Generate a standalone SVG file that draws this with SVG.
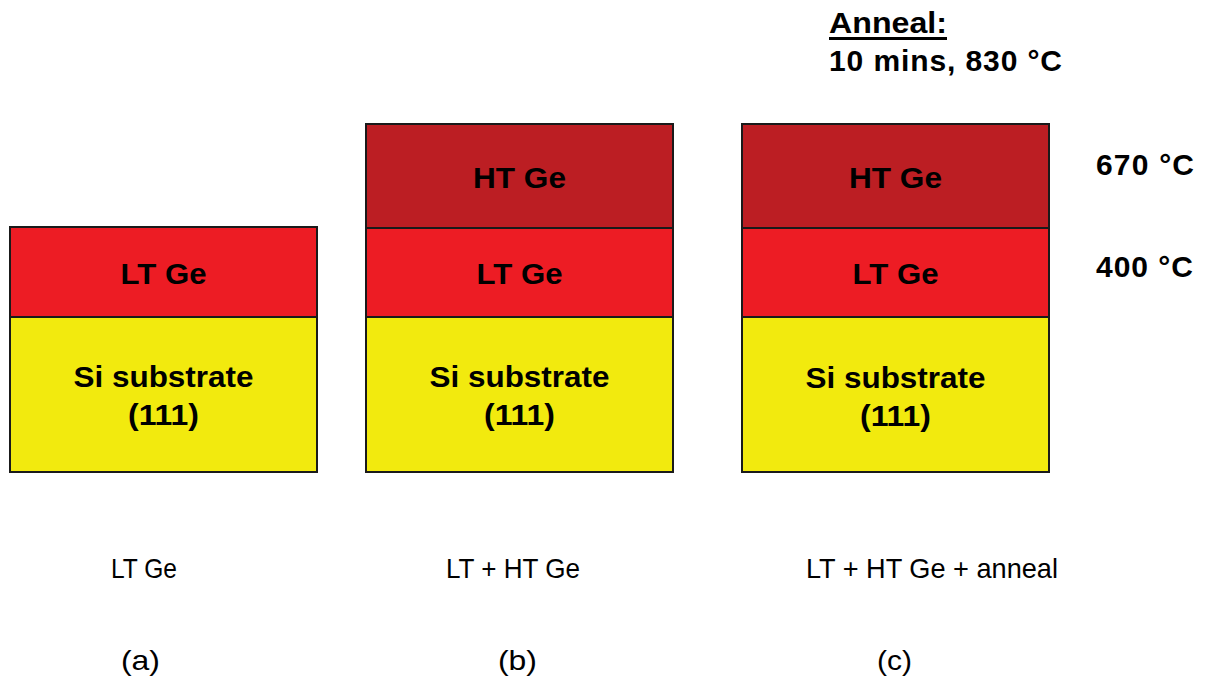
<svg xmlns="http://www.w3.org/2000/svg" width="1210" height="679" viewBox="0 0 1210 679">
  <style>
    .lt { fill: #ED1C24; stroke: #1a1a1a; stroke-width: 2; }
    .ht { fill: #BC1E23; stroke: #1a1a1a; stroke-width: 2; }
    .si { fill: #F2EA0E; stroke: #1a1a1a; stroke-width: 2; }
    .lbl { font-family: "Liberation Sans", Arial, sans-serif; font-weight: bold; font-size: 29px; fill: #000; text-anchor: middle; }
    .note { font-family: "Liberation Sans", Arial, sans-serif; font-weight: bold; font-size: 30px; fill: #000; }
    .cap { font-family: "Liberation Sans", Arial, sans-serif; font-size: 28px; fill: #000; }
  </style>

  <!-- (a) LT Ge on Si -->
  <g id="stack-a">
    <rect class="si" x="10" y="317" width="307" height="155"/>
    <rect class="lt" x="10" y="227" width="307" height="90"/>
    <text class="lbl" x="163.5" y="284" textLength="86" lengthAdjust="spacingAndGlyphs">LT Ge</text>
    <text class="lbl" x="163.5" y="387" textLength="180" lengthAdjust="spacingAndGlyphs">Si substrate</text>
    <text class="lbl" x="163.5" y="425" textLength="71" lengthAdjust="spacingAndGlyphs">(111)</text>
  </g>

  <!-- (b) LT + HT Ge on Si -->
  <g id="stack-b">
    <rect class="si" x="366" y="317" width="307" height="155"/>
    <rect class="lt" x="366" y="228" width="307" height="89"/>
    <rect class="ht" x="366" y="124" width="307" height="104"/>
    <text class="lbl" x="519.5" y="188" textLength="93" lengthAdjust="spacingAndGlyphs">HT Ge</text>
    <text class="lbl" x="519.5" y="284" textLength="86" lengthAdjust="spacingAndGlyphs">LT Ge</text>
    <text class="lbl" x="519.5" y="387" textLength="180" lengthAdjust="spacingAndGlyphs">Si substrate</text>
    <text class="lbl" x="519.5" y="425" textLength="71" lengthAdjust="spacingAndGlyphs">(111)</text>
  </g>

  <!-- (c) LT + HT Ge on Si, annealed -->
  <g id="stack-c">
    <rect class="si" x="742" y="317" width="307" height="155"/>
    <rect class="lt" x="742" y="228" width="307" height="89"/>
    <rect class="ht" x="742" y="124" width="307" height="104"/>
    <text class="lbl" x="895.5" y="188" textLength="93" lengthAdjust="spacingAndGlyphs">HT Ge</text>
    <text class="lbl" x="895.5" y="284" textLength="86" lengthAdjust="spacingAndGlyphs">LT Ge</text>
    <text class="lbl" x="895.5" y="388" textLength="180" lengthAdjust="spacingAndGlyphs">Si substrate</text>
    <text class="lbl" x="895.5" y="426" textLength="71" lengthAdjust="spacingAndGlyphs">(111)</text>
  </g>

  <!-- growth / anneal conditions -->
  <g id="anneal-note">
    <text class="note" x="829" y="33" textLength="118" lengthAdjust="spacingAndGlyphs">Anneal:</text>
    <rect x="829" y="37" width="118" height="3" fill="#000"/>
    <text class="note" x="829" y="71" textLength="233" lengthAdjust="spacing">10 mins, 830 °C</text>
  </g>
  <g id="temp-ht">
    <text class="note" x="1096" y="175" textLength="98" lengthAdjust="spacing">670 °C</text>
  </g>
  <g id="temp-lt">
    <text class="note" x="1096" y="277" textLength="97" lengthAdjust="spacing">400 °C</text>
  </g>

  <!-- captions -->
  <g id="captions">
    <text class="cap" x="111" y="578" textLength="66" lengthAdjust="spacingAndGlyphs">LT Ge</text>
    <text class="cap" x="446" y="578" textLength="134" lengthAdjust="spacingAndGlyphs">LT + HT Ge</text>
    <text class="cap" x="806" y="578" textLength="252" lengthAdjust="spacingAndGlyphs">LT + HT Ge + anneal</text>
    <text class="cap" x="121" y="670" textLength="39" lengthAdjust="spacingAndGlyphs">(a)</text>
    <text class="cap" x="498" y="670" textLength="39" lengthAdjust="spacingAndGlyphs">(b)</text>
    <text class="cap" x="877" y="670" textLength="35" lengthAdjust="spacingAndGlyphs">(c)</text>
  </g>
</svg>
